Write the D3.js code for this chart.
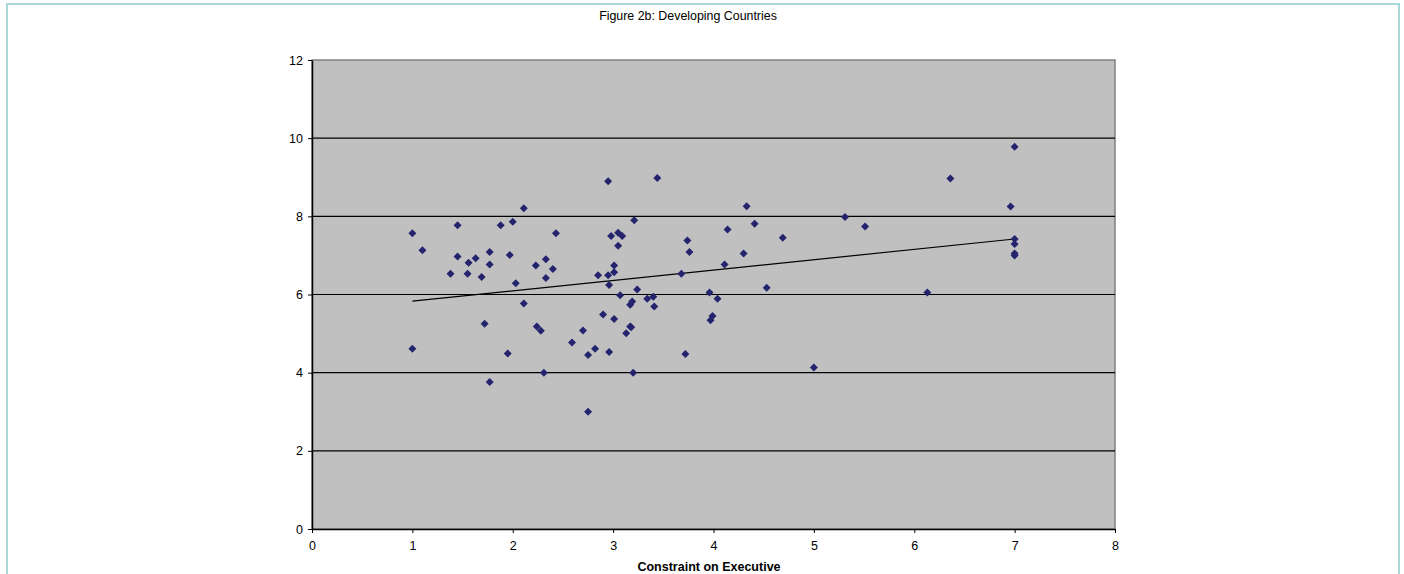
<!DOCTYPE html>
<html>
<head>
<meta charset="utf-8">
<script src="https://cdn.jsdelivr.net/npm/d3@7"></script>
<style>
  html, body { margin: 0; padding: 0; background: #fff; }
  text { font-family: "Liberation Sans", Arial, sans-serif; }
</style>
</head>
<body>
<div id="chart"></div>
<script>
// Constraint on executive (x) for each developing country
const constraintX = [
  1.0, 1.0, 1.10, 1.38, 1.45, 1.45, 1.55, 1.56, 1.63, 1.69,
  1.72, 1.77, 1.77, 1.77, 1.88, 1.95, 1.97, 2.0, 2.03, 2.11,
  2.11, 2.23, 2.24, 2.28, 2.33, 2.31, 2.33, 2.40, 2.43, 2.59,
  2.70, 2.75, 2.75, 2.82, 2.85, 2.90, 2.95, 2.95, 2.96, 2.96,
  2.98, 3.01, 3.01, 3.01, 3.05, 3.05, 3.09, 3.07, 3.13, 3.17,
  3.18, 3.17, 3.19, 3.21, 3.20, 3.24, 3.34, 3.40, 3.41, 3.44,
  3.68, 3.74, 3.76, 3.72, 3.96, 3.97, 3.99, 4.04, 4.11, 4.14,
  4.30, 4.33, 4.41, 4.53, 4.69, 5.0, 5.31, 5.51, 6.13, 6.36,
  6.96, 7.0, 7.0, 7.0, 7.0, 7.0
];

// Outcome value (y) for the same countries
const outcomeY = [
  7.57, 4.61, 7.13, 6.53, 7.77, 6.97, 6.53, 6.81, 6.93, 6.45,
  5.25, 7.09, 6.77, 3.76, 7.77, 4.49, 7.01, 7.86, 6.29, 8.21,
  5.77, 6.74, 5.18, 5.07, 6.90, 4.0, 6.42, 6.65, 7.57, 4.77,
  5.08, 4.45, 3.0, 4.61, 6.49, 5.49, 6.49, 8.90, 6.24, 4.53,
  7.50, 6.74, 6.57, 5.37, 7.25, 7.58, 7.50, 5.98, 5.01, 5.18,
  5.16, 5.74, 5.82, 7.90, 4.0, 6.13, 5.89, 5.94, 5.69, 8.98,
  6.53, 7.38, 7.09, 4.48, 6.05, 5.34, 5.45, 5.89, 6.77, 7.66,
  7.05, 8.26, 7.81, 6.17, 7.45, 4.13, 7.98, 7.74, 6.05, 8.97,
  8.25, 9.78, 7.42, 7.29, 7.05, 7.0
];

// Linear trend line as drawn in the figure (start and end x, fitted y)
const trendX = [1, 7];
const trendY = [5.83, 7.42];

const xTicks = [0, 1, 2, 3, 4, 5, 6, 7, 8];
const yTicks = [0, 2, 4, 6, 8, 10, 12];

const width = 1404, height = 574;
const plot = { left: 312, right: 1115, top: 60, bottom: 529 };

const svg = d3.select('#chart')
  .append('svg')
    .attr('width', width)
    .attr('height', height);

// outer frame
svg.append('rect')
  .attr('x', 7).attr('y', 4)
  .attr('width', 1392).attr('height', 600)
  .attr('fill', 'none')
  .attr('stroke', '#a8d8d8')
  .attr('stroke-width', 2);

const x = d3.scaleLinear().domain([0, 8]).range([plot.left, plot.right]);
const y = d3.scaleLinear().domain([0, 12]).range([plot.bottom, plot.top]);

// plot area
svg.append('rect')
  .attr('x', plot.left).attr('y', plot.top)
  .attr('width', plot.right - plot.left)
  .attr('height', plot.bottom - plot.top)
  .attr('fill', '#c0c0c0')
  .attr('stroke', '#808080')
  .attr('stroke-width', 1.5);

// horizontal gridlines
svg.append('g')
  .selectAll('line')
  .data(yTicks.filter(d => d > 0 && d < 12))
  .join('line')
    .attr('x1', plot.left).attr('x2', plot.right)
    .attr('y1', d => y(d)).attr('y2', d => y(d))
    .attr('stroke', '#000')
    .attr('stroke-width', 1.2);

// axes
const xAxis = svg.append('g')
  .attr('transform', `translate(0,${plot.bottom})`)
  .call(d3.axisBottom(x).tickValues(xTicks).tickSize(4).tickSizeOuter(0).tickPadding(8));
const yAxis = svg.append('g')
  .attr('transform', `translate(${plot.left},0)`)
  .call(d3.axisLeft(y).tickValues(yTicks).tickSize(4).tickSizeOuter(0).tickPadding(5));

[xAxis, yAxis].forEach(g => {
  g.select('.domain').attr('stroke', '#000').attr('stroke-width', 1.5);
  g.selectAll('.tick line').attr('stroke', '#000');
  g.selectAll('.tick text')
    .attr('font-family', '"Liberation Sans", Arial, sans-serif')
    .attr('font-size', 12.5)
    .attr('fill', '#000');
});

// trend line
const trend = trendX.map((d, i) => [d, trendY[i]]);
svg.append('path')
  .datum(trend)
  .attr('d', d3.line().x(d => x(d[0])).y(d => y(d[1])))
  .attr('fill', 'none')
  .attr('stroke', '#000')
  .attr('stroke-width', 1.2);

// diamond markers
const diamond = {
  draw(ctx, size) {
    const r = Math.sqrt(size / 2);
    ctx.moveTo(0, -r);
    ctx.lineTo(r, 0);
    ctx.lineTo(0, r);
    ctx.lineTo(-r, 0);
    ctx.closePath();
  }
};
const points = constraintX.map((d, i) => [d, outcomeY[i]]);
svg.append('g')
  .selectAll('path')
  .data(points)
  .join('path')
    .attr('transform', d => `translate(${x(d[0])},${y(d[1])})`)
    .attr('d', d3.symbol().type(diamond).size(32))
    .attr('fill', '#24246e');

// titles
svg.append('text')
  .attr('x', 688).attr('y', 20)
  .attr('text-anchor', 'middle')
  .attr('font-size', 12.4)
  .text('Figure 2b: Developing Countries');

svg.append('text')
  .attr('x', 709).attr('y', 571)
  .attr('text-anchor', 'middle')
  .attr('font-size', 12.5)
  .attr('font-weight', 'bold')
  .text('Constraint on Executive');
</script>
</body>
</html>
